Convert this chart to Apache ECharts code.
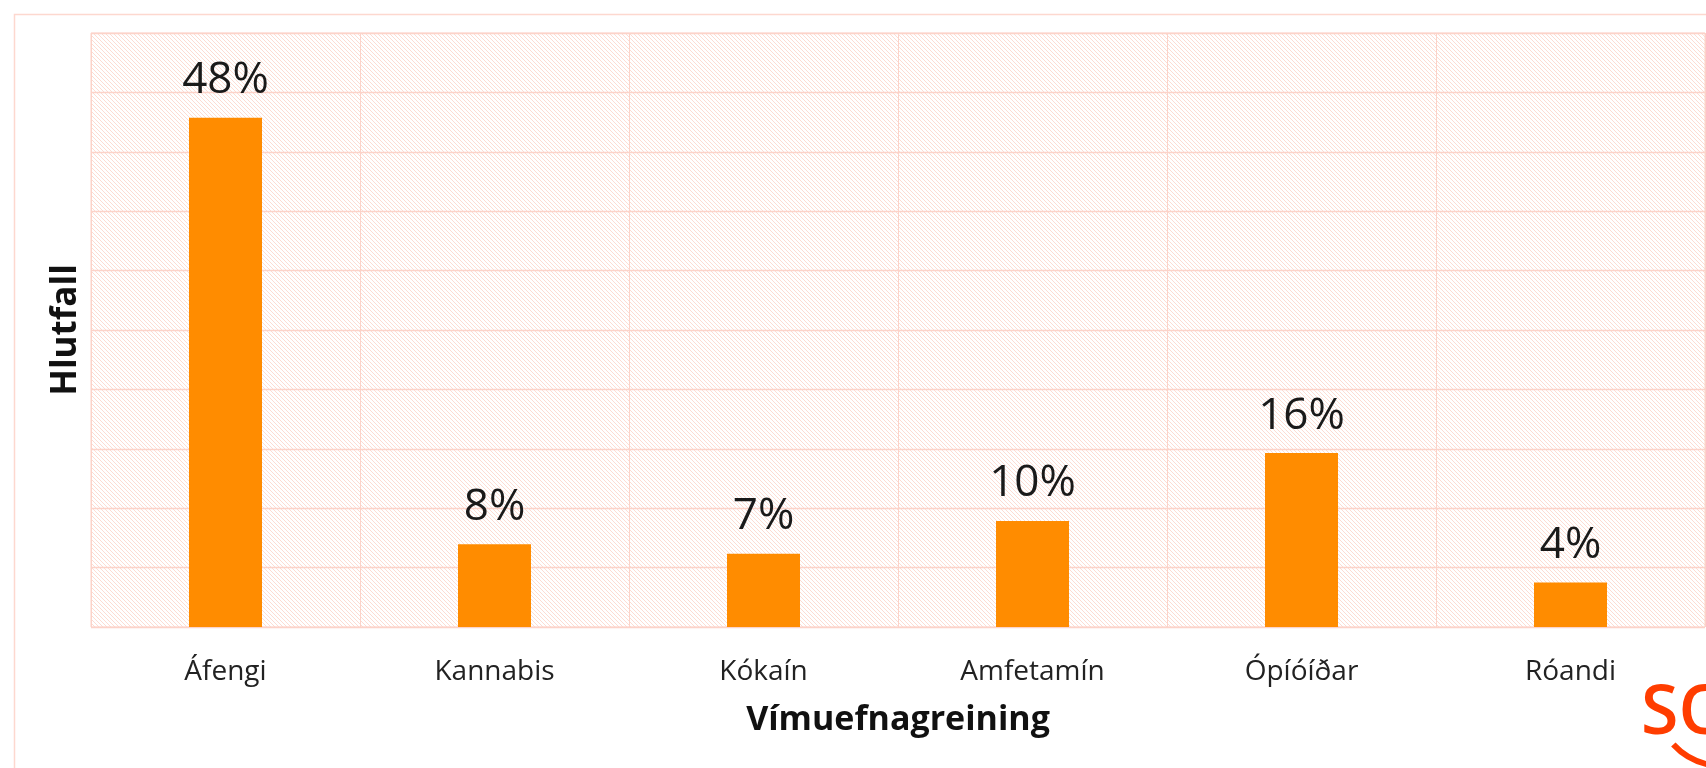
<!DOCTYPE html>
<html>
<head>
<meta charset="utf-8">
<script src="https://cdn.jsdelivr.net/npm/echarts@6/dist/echarts.min.js"></script>
<style>
  html, body { margin: 0; padding: 0; background: #fff; }
  #myecharts { width: 1706px; height: 768px; }
</style>
</head>
<body>
<div id="myecharts"></div>
<script>
// data
var categories = ['Áfengi', 'Kannabis', 'Kókaín', 'Amfetamín', 'Ópíóíðar', 'Róandi'];
var values = [48, 7.8, 6.9, 10, 16.4, 4.2];
var yMax = 56;

// diagonal hatch for the plot area
function makeHatch() {
    var c = document.createElement('canvas');
    c.width = 8; c.height = 8;
    var ctx = c.getContext('2d');
    ctx.fillStyle = '#ffffff';
    ctx.fillRect(0, 0, 8, 8);
    ctx.strokeStyle = '#fcdcd3';
    ctx.lineWidth = 1;
    for (var k = -8; k <= 16; k += 4) {
        ctx.beginPath();
        ctx.moveTo(k, 0);
        ctx.lineTo(k + 8, 8);
        ctx.stroke();
    }
    return c;
}

var myChart = echarts.init(document.getElementById('myecharts'));
var option = {
    backgroundColor: '#ffffff',
    animation: false,
    grid: {
        left: 91, top: 33, right: 1, bottom: 141,
        show: true,
        backgroundColor: { image: makeHatch(), repeat: 'repeat' },
        borderColor: '#fcd3c9',
        borderWidth: 1
    },
    graphic: [
        {
            type: 'rect', left: 12, top: 12, z: -10, silent: true,
            shape: { width: 1800, height: 800 },
            style: { fill: 'none', stroke: '#fdd8cf', lineWidth: 1.5 }
        },
        {
            type: 'text', left: 1641, top: 681, silent: true,
            style: { text: 'SO', fill: '#ff3d00', font: '600 68px "Open Sans"' }
        },
        {
            type: 'arc', silent: true,
            shape: { cx: 1722, cy: 700, r: 66, startAngle: 1.8, endAngle: 2.4 },
            style: { stroke: '#ff3d00', lineWidth: 6, fill: 'none' }
        }
    ],
    xAxis: [{
        type: 'category',
        data: categories,
        axisLine: { show: false },
        axisTick: { show: false },
        axisLabel: {
            margin: 31,
            fontSize: 28,
            fontFamily: 'Open Sans',
            color: '#222'
        },
        splitLine: { show: true, interval: 0, lineStyle: { color: '#fcd3c9', width: 1 } },
        name: 'Vímuefnagreining',
        nameLocation: 'middle',
        nameGap: 76,
        nameTextStyle: {
            fontSize: 34, fontWeight: 'bold', fontFamily: 'Open Sans', color: '#111'
        }
    }],
    yAxis: [{
        type: 'value',
        min: 0,
        max: yMax,
        interval: 5.6,
        axisLine: { show: false },
        axisTick: { show: false },
        axisLabel: { show: false },
        splitLine: { show: true, lineStyle: { color: '#fcd3c9', width: 1.3 } },
        name: 'Hlutfall',
        nameLocation: 'middle',
        nameGap: 7,
        nameTextStyle: {
            fontSize: 35, fontWeight: 'bold', fontFamily: 'Open Sans', color: '#111'
        }
    }],
    series: [{
        name: 'Hlutfall',
        type: 'bar',
        barWidth: 73,
        data: values,
        itemStyle: { color: '#ff8c00' },
        label: {
            show: true,
            position: 'top',
            distance: 15,
            formatter: function (p) { return Math.round(p.value) + '%'; },
            fontSize: 44,
            fontFamily: 'Open Sans',
            color: '#1a1a1a'
        }
    }]
};
myChart.setOption(option);
</script>
</body>
</html>
